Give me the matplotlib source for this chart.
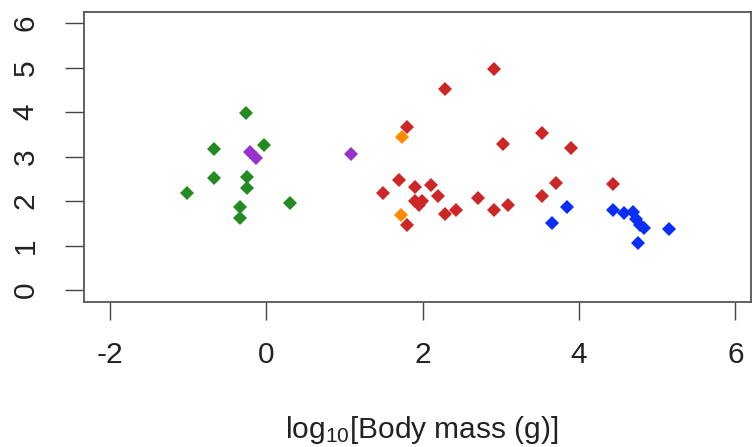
import matplotlib
matplotlib.use("Agg")
import matplotlib.pyplot as plt

plt.rcParams['font.family'] = ['Liberation Sans', 'DejaVu Sans']
plt.rcParams['mathtext.fontset'] = 'custom'
plt.rcParams['mathtext.rm'] = 'Liberation Sans'
plt.rcParams['mathtext.it'] = 'Liberation Sans:italic'

# data: log10 body mass (x) and trait value (y), by group
green_x = [-0.26, -0.67, -0.03, -0.67, -0.24, -0.24, -1.01, 0.30, -0.34, -0.34]
green_y = [3.99, 3.17, 3.26, 2.51, 2.54, 2.29, 2.17, 1.95, 1.87, 1.61]

purple_x = [-0.21, -0.13, 1.08]
purple_y = [3.10, 2.97, 3.06]

red_x = [2.91, 2.29, 1.80, 3.53, 3.03, 3.90, 1.70, 3.70, 1.90, 2.11, 1.50, 2.20,
         2.71, 3.53, 4.44, 1.90, 1.99, 1.95, 2.29, 2.43, 2.91, 3.09, 1.80]
red_y = [4.97, 4.53, 3.67, 3.54, 3.28, 3.19, 2.47, 2.41, 2.32, 2.36, 2.17, 2.11,
         2.06, 2.12, 2.38, 2.01, 1.99, 1.90, 1.71, 1.80, 1.80, 1.90, 1.45]

orange_x = [1.74, 1.73]
orange_y = [3.45, 1.69]

blue_x = [3.66, 3.85, 4.43, 4.57, 4.69, 4.73, 4.78, 4.83, 5.15, 4.76]
blue_y = [1.51, 1.87, 1.79, 1.72, 1.76, 1.60, 1.46, 1.39, 1.36, 1.05]

x_ticks = [-2, 0, 2, 4, 6]
y_ticks = [0, 1, 2, 3, 4, 5, 6]
x_label = r'log$_{10}$[Body mass (g)]'

W, H = 754, 447
fig = plt.figure(figsize=(W / 100, H / 100), dpi=100)
ax = fig.add_axes([84 / W, 1 - 302 / H, (751 - 84) / W, (302 - 12) / H])

ms = 6.8
for xs, ys, c in [(green_x, green_y, '#228B22'),
                  (purple_x, purple_y, '#9932CC'),
                  (red_x, red_y, '#CD2626'),
                  (orange_x, orange_y, '#FF8C00'),
                  (blue_x, blue_y, '#0A2EF5')]:
    ax.plot(xs, ys, linestyle='none', marker='D', ms=ms, color=c, mec=c, mew=0)

ax.set_xlim(-2.33, 6.2)
ax.set_ylim(-0.27, 6.25)
ax.set_xticks(x_ticks)
ax.set_xticklabels([str(v) for v in x_ticks])
ax.set_yticks(y_ticks)
ax.set_yticklabels([str(v) for v in y_ticks], rotation=90, va='center')

for s in ax.spines.values():
    s.set_color('#555555')
    s.set_linewidth(1.3)

ax.tick_params(axis='x', length=13, width=1.0, color='#444444', pad=15,
               labelsize=21.5, labelcolor='#222222')
ax.tick_params(axis='y', length=14, width=1.0, color='#444444', pad=18,
               labelsize=21.5, labelcolor='#222222')

fig.text(422 / W, 1 - 430 / H, x_label, ha='center', va='center',
         fontsize=21.5, color='#222222')

fig.savefig('out.png', dpi=100)
